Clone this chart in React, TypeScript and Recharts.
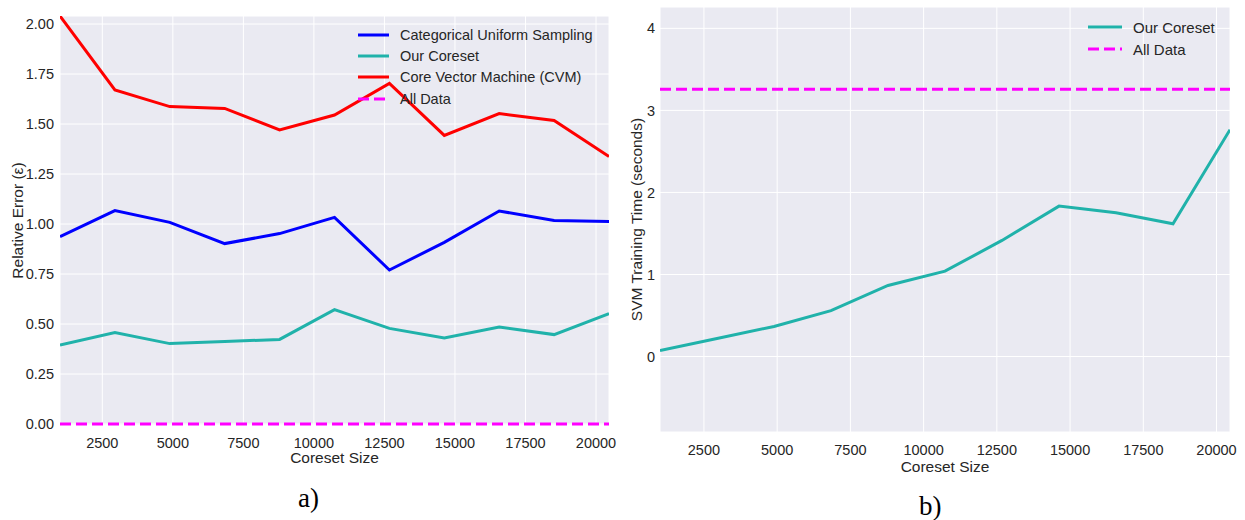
import { LineChart, Line, XAxis, YAxis, CartesianGrid, ReferenceLine, Label } from 'recharts';

// coreset sizes on the x axis (shared by both panels)
const CORESET_SIZES = [1000, 2946, 4892, 6838, 8784, 10730, 12676, 14622, 16568, 18514, 20460];
const X_TICKS = [2500, 5000, 7500, 10000, 12500, 15000, 17500, 20000];

// panel a) relative error
const UNIFORM_ERROR = [0.937, 1.067, 1.008, 0.902, 0.952, 1.033, 0.77, 0.908, 1.065, 1.017, 1.012];
const CORESET_ERROR = [0.395, 0.457, 0.402, 0.412, 0.423, 0.572, 0.478, 0.43, 0.485, 0.447, 0.552];
const CVM_ERROR = [2.04, 1.67, 1.587, 1.578, 1.47, 1.545, 1.703, 1.443, 1.552, 1.518, 1.337];
const ALL_DATA_ERROR = 0;
const ERROR_TICKS = [0, 0.25, 0.5, 0.75, 1, 1.25, 1.5, 1.75, 2];

// panel b) training time
const CORESET_TIME = [0.073, 0.22, 0.366, 0.56, 0.866, 1.04, 1.415, 1.833, 1.752, 1.618, 2.765];
const ALL_DATA_TIME = 3.256;
const TIME_TICKS = [0, 1, 2, 3, 4];

const BLUE = '#0000FF';
const TEAL = '#20B2AA';
const RED = '#FF0000';
const MAGENTA = '#FF00FF';
const TEXT = '#262626';
const BG = '#EAEAF2';
const FONT = '"Liberation Sans", Arial, sans-serif';

const errorData = CORESET_SIZES.map((size, i) => ({
  size,
  uniform: UNIFORM_ERROR[i],
  coreset: CORESET_ERROR[i],
  cvm: CVM_ERROR[i],
}));

const timeData = CORESET_SIZES.map((size, i) => ({
  size,
  coreset: CORESET_TIME[i],
}));

const tickStyle = { fill: TEXT, fontSize: 14.5, fontFamily: FONT };
const labelStyle = { fill: TEXT, fontSize: 15.5, fontFamily: FONT };

interface LegendItem {
  name: string;
  color: string;
  dashed?: boolean;
}

const LegendBox = ({
  items,
  left,
  top,
  lineLen,
  gap,
  rowHeight,
  fontSize,
}: {
  items: LegendItem[];
  left: number;
  top: number;
  lineLen: number;
  gap: number;
  rowHeight: number;
  fontSize: number;
}) => (
  <div style={{ position: 'absolute', left, top, fontFamily: FONT, fontSize, color: TEXT }}>
    {items.map((item) => (
      <div key={item.name} style={{ display: 'flex', alignItems: 'center', height: rowHeight }}>
        <svg width={lineLen} height={6} style={{ display: 'block' }}>
          <line
            x1={0}
            y1={3}
            x2={lineLen}
            y2={3}
            stroke={item.color}
            strokeWidth={3}
            strokeDasharray={item.dashed ? '11 5' : undefined}
          />
        </svg>
        <span style={{ marginLeft: gap, whiteSpace: 'nowrap' }}>{item.name}</span>
      </div>
    ))}
  </div>
);

export default function App() {
  return (
    <div style={{ position: 'absolute', left: 0, top: 0, width: 1245, height: 520, background: '#fff' }}>
      {/* a) relative error */}
      <div style={{ position: 'absolute', left: 0, top: 0 }}>
        <LineChart width={620} height={470} data={errorData} margin={{ top: 16, right: 11, bottom: 0, left: 0 }}>
          <CartesianGrid fill={BG} fillOpacity={1} stroke="#ffffff" strokeWidth={1} />
          <XAxis
            dataKey="size"
            type="number"
            domain={[1000, 20460]}
            allowDataOverflow
            ticks={X_TICKS}
            interval={0}
            tickLine={false}
            axisLine={false}
            tickSize={0}
            tickMargin={13}
            height={45}
            tick={tickStyle}
          >
            <Label value="Coreset Size" position="insideBottom" offset={7} style={labelStyle} />
          </XAxis>
          <YAxis
            type="number"
            domain={[-0.005, 2.04]}
            allowDataOverflow
            ticks={ERROR_TICKS}
            interval={0}
            tickFormatter={(v: number) => v.toFixed(2)}
            tickLine={false}
            axisLine={false}
            tickSize={0}
            tickMargin={6}
            width={60}
            tick={tickStyle}
          >
            <Label
              value="Relative Error (ε)"
              angle={-90}
              position="insideLeft"
              offset={17}
              style={{ ...labelStyle, textAnchor: 'middle' }}
            />
          </YAxis>
          <Line type="linear" dataKey="uniform" stroke={BLUE} strokeWidth={3} dot={false} isAnimationActive={false} />
          <Line type="linear" dataKey="coreset" stroke={TEAL} strokeWidth={3} dot={false} isAnimationActive={false} />
          <Line type="linear" dataKey="cvm" stroke={RED} strokeWidth={3} dot={false} isAnimationActive={false} />
          <ReferenceLine y={ALL_DATA_ERROR} stroke={MAGENTA} strokeWidth={3} strokeDasharray="11 5" />
        </LineChart>
      </div>
      <LegendBox
        left={358}
        top={24}
        lineLen={31}
        gap={11}
        rowHeight={21.3}
        fontSize={14.5}
        items={[
          { name: 'Categorical Uniform Sampling', color: BLUE },
          { name: 'Our Coreset', color: TEAL },
          { name: 'Core Vector Machine (CVM)', color: RED },
          { name: 'All Data', color: MAGENTA, dashed: true },
        ]}
      />

      {/* b) training time */}
      <div style={{ position: 'absolute', left: 620, top: 0 }}>
        <LineChart width={625} height={480} data={timeData} margin={{ top: 7, right: 15, bottom: 0, left: 0 }}>
          <CartesianGrid fill={BG} fillOpacity={1} stroke="#ffffff" strokeWidth={1} />
          <XAxis
            dataKey="size"
            type="number"
            domain={[1000, 20460]}
            allowDataOverflow
            ticks={X_TICKS}
            interval={0}
            tickLine={false}
            axisLine={false}
            tickSize={0}
            tickMargin={13}
            height={48}
            tick={tickStyle}
          >
            <Label value="Coreset Size" position="insideBottom" offset={8} style={labelStyle} />
          </XAxis>
          <YAxis
            type="number"
            domain={[-0.92, 4.26]}
            allowDataOverflow
            ticks={TIME_TICKS}
            interval={0}
            tickLine={false}
            axisLine={false}
            tickSize={0}
            tickMargin={5}
            width={40}
            tick={tickStyle}
          >
            <Label
              value="SVM Training Time (seconds)"
              angle={-90}
              position="insideLeft"
              offset={16}
              style={{ ...labelStyle, textAnchor: 'middle' }}
            />
          </YAxis>
          <Line type="linear" dataKey="coreset" stroke={TEAL} strokeWidth={3} dot={false} isAnimationActive={false} />
          <ReferenceLine y={ALL_DATA_TIME} stroke={MAGENTA} strokeWidth={3} strokeDasharray="11 5" />
        </LineChart>
      </div>
      <LegendBox
        left={1088}
        top={16}
        lineLen={34}
        gap={11}
        rowHeight={22}
        fontSize={15}
        items={[
          { name: 'Our Coreset', color: TEAL },
          { name: 'All Data', color: MAGENTA, dashed: true },
        ]}
      />

      {/* panel captions */}
      <div
        style={{
          position: 'absolute',
          left: 298,
          top: 483,
          fontFamily: '"Liberation Serif", "DejaVu Serif", serif',
          fontSize: 27,
          color: '#000',
        }}
      >
        a)
      </div>
      <div
        style={{
          position: 'absolute',
          left: 919,
          top: 491,
          fontFamily: '"Liberation Serif", "DejaVu Serif", serif',
          fontSize: 27,
          color: '#000',
        }}
      >
        b)
      </div>
    </div>
  );
}
